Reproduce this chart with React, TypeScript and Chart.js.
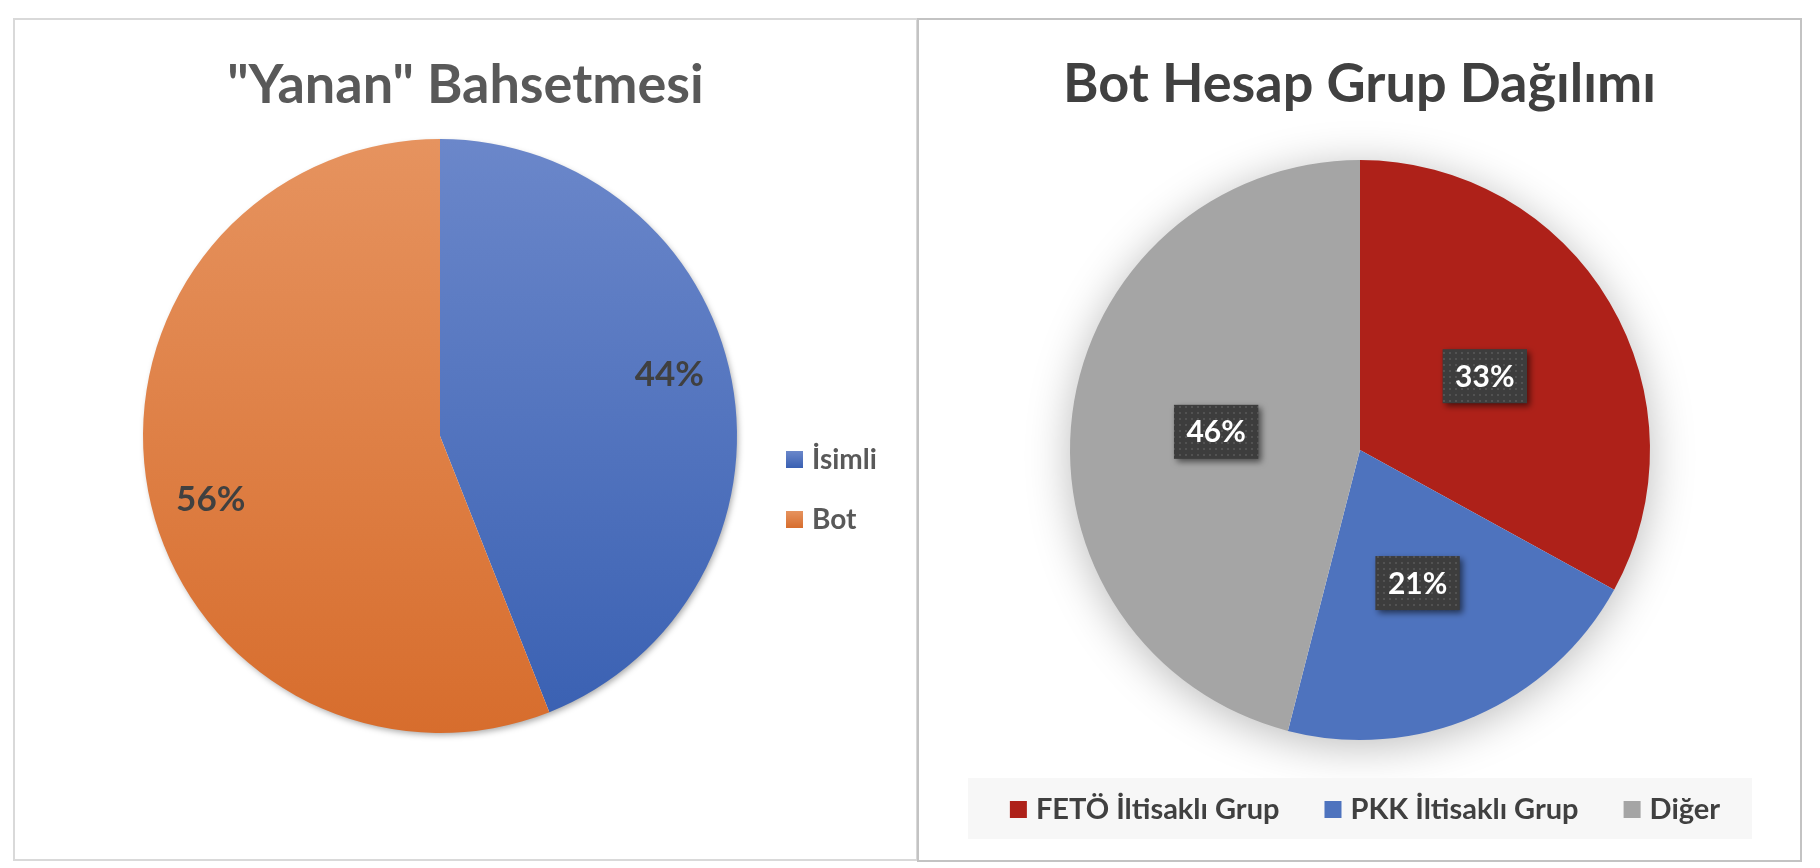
import React, { useEffect, useRef } from "react";
import { Chart, registerables } from "chart.js";

Chart.register(...registerables);

const FONT = "Lato, 'Open Sans', sans-serif";

// ---- Left chart data ----
const leftTitle = '"Yanan" Bahsetmesi';
const leftLabels = ["İsimli", "Bot"];
const leftValues = [44, 56];
const leftColorsTop = ["#6b87ca", "#e6935f"];
const leftColorsBottom = ["#3960b2", "#d76d2d"];

// ---- Right chart data ----
const rightTitle = "Bot Hesap Grup Dağılımı";
const rightLabels = ["FETÖ İltisaklı Grup", "PKK İltisaklı Grup", "Diğer"];
const rightValues = [33, 21, 46];
const rightColors = ["#ae2119", "#4e73be", "#a5a5a5"];

function pct(values: number[], i: number) {
  const total = values.reduce((a, b) => a + b, 0);
  return Math.round((values[i] / total) * 100) + "%";
}

function makeShadowPlugin(color: string, blur: number, ox: number, oy: number) {
  return {
    id: "pieShadow",
    beforeDatasetsDraw(chart: any) {
      const arc = chart.getDatasetMeta(0).data[0];
      if (!arc) return;
      const { x, y, outerRadius } = arc.getProps(["x", "y", "outerRadius"], true);
      const ctx = chart.ctx;
      ctx.save();
      ctx.shadowColor = color;
      ctx.shadowBlur = blur;
      ctx.shadowOffsetX = ox;
      ctx.shadowOffsetY = oy;
      ctx.beginPath();
      ctx.arc(x, y, outerRadius - 1, 0, Math.PI * 2);
      ctx.fillStyle = "#ffffff";
      ctx.fill();
      ctx.restore();
    },
  };
}

function makeTitlePlugin(text: string, color: string, baseline: number) {
  return {
    id: "panelTitle",
    afterDraw(chart: any) {
      const ctx = chart.ctx;
      ctx.save();
      ctx.font = `bold 54px ${FONT}`;
      ctx.fillStyle = color;
      ctx.textAlign = "center";
      ctx.textBaseline = "alphabetic";
      ctx.fillText(text, chart.width / 2, baseline);
      ctx.restore();
    },
  };
}

let dotPattern: CanvasPattern | null = null;
function getDotPattern(ctx: CanvasRenderingContext2D) {
  if (dotPattern) return dotPattern;
  const c = document.createElement("canvas");
  c.width = 6;
  c.height = 6;
  const p = c.getContext("2d")!;
  p.fillStyle = "#3d3d3d";
  p.fillRect(0, 0, 6, 6);
  p.fillStyle = "#525252";
  p.fillRect(2, 2, 2, 2);
  dotPattern = ctx.createPattern(c, "repeat");
  return dotPattern;
}

function makeLabelPlugin(
  values: number[],
  factor: number,
  angleShift: number,
  boxed: boolean,
  fontSize: number,
  color: string
) {
  return {
    id: "sliceLabels",
    afterDatasetsDraw(chart: any) {
      const ctx: CanvasRenderingContext2D = chart.ctx;
      const meta = chart.getDatasetMeta(0);
      meta.data.forEach((arc: any, i: number) => {
        const { x, y, startAngle, endAngle, outerRadius } = arc.getProps(
          ["x", "y", "startAngle", "endAngle", "outerRadius"],
          true
        );
        const mid = (startAngle + endAngle) / 2 + angleShift;
        const d = outerRadius * factor;
        const lx = x + Math.cos(mid) * d;
        const ly = y + Math.sin(mid) * d;
        const text = pct(values, i);
        ctx.save();
        ctx.font = `bold ${fontSize}px ${FONT}`;
        ctx.textAlign = "center";
        ctx.textBaseline = "middle";
        if (boxed) {
          const w = ctx.measureText(text).width + 25;
          const h = 54;
          ctx.save();
          ctx.shadowColor = "rgba(0,0,0,0.55)";
          ctx.shadowBlur = 6;
          ctx.shadowOffsetX = 3;
          ctx.shadowOffsetY = 3;
          ctx.fillStyle = getDotPattern(ctx) || "#3d3d3d";
          ctx.fillRect(lx - w / 2, ly - h / 2, w, h);
          ctx.restore();
        }
        ctx.fillStyle = color;
        ctx.fillText(text, lx, ly + 1);
        ctx.restore();
      });
    },
  };
}

const leftLegendPlugin = {
  id: "leftLegend",
  afterDraw(chart: any) {
    const ctx: CanvasRenderingContext2D = chart.ctx;
    ctx.save();
    ctx.font = `bold 28px ${FONT}`;
    ctx.textAlign = "left";
    ctx.textBaseline = "alphabetic";
    leftLabels.forEach((lab, i) => {
      const baseline = 449 + i * 60;
      const bx = 771;
      const by = baseline - 18;
      const g = ctx.createLinearGradient(0, by, 0, by + 17);
      g.addColorStop(0, leftColorsTop[i]);
      g.addColorStop(1, leftColorsBottom[i]);
      ctx.fillStyle = g;
      ctx.fillRect(bx, by, 17, 17);
      ctx.fillStyle = "#595959";
      ctx.fillText(lab, 797, baseline);
    });
    ctx.restore();
  },
};

const rightLegendPlugin = {
  id: "rightLegend",
  afterDraw(chart: any) {
    const ctx: CanvasRenderingContext2D = chart.ctx;
    ctx.save();
    ctx.fillStyle = "#f7f7f7";
    ctx.fillRect(49, 758, 784, 61);
    ctx.font = `bold 29px ${FONT}`;
    ctx.textAlign = "left";
    ctx.textBaseline = "alphabetic";
    const box = 17;
    const gap = 9;
    const between = 45;
    const widths = rightLabels.map((l) => ctx.measureText(l).width);
    const total = widths.reduce((a, w) => a + box + gap + w, 0) + between * (rightLabels.length - 1);
    let x = 446 - total / 2;
    const baseline = 799;
    rightLabels.forEach((lab, i) => {
      ctx.fillStyle = rightColors[i];
      ctx.fillRect(x, baseline - 18, box, box);
      ctx.fillStyle = "#404040";
      ctx.fillText(lab, x + box + gap, baseline);
      x += box + gap + widths[i] + between;
    });
    ctx.restore();
  },
};

function LeftChart() {
  const ref = useRef<HTMLCanvasElement>(null);
  useEffect(() => {
    const chart = new Chart(ref.current!, {
      type: "pie",
      data: {
        labels: leftLabels,
        datasets: [
          {
            data: leftValues,
            borderWidth: 0,
            backgroundColor: (c: any) => {
              const area = c.chart.chartArea;
              const i = c.dataIndex;
              if (!area) return leftColorsTop[i];
              const g = c.chart.ctx.createLinearGradient(0, area.top, 0, area.bottom);
              g.addColorStop(0, leftColorsTop[i]);
              g.addColorStop(1, leftColorsBottom[i]);
              return g;
            },
          },
        ],
      },
      options: {
        responsive: false,
        animation: false,
        devicePixelRatio: 1,
        layout: { padding: { left: 128, right: 179, top: 119, bottom: 126 } },
        plugins: { legend: { display: false }, title: { display: false }, tooltip: { enabled: false } },
      },
      plugins: [
        makeShadowPlugin("rgba(0,0,0,0.35)", 6, 2, 3),
        makeLabelPlugin(leftValues, 0.8, -0.077, false, 35, "#404040"),
        makeTitlePlugin(leftTitle, "#595959", 83),
        leftLegendPlugin,
      ],
    } as any);
    return () => chart.destroy();
  }, []);
  return <canvas ref={ref} width={901} height={839} style={{ position: "absolute", left: 0, top: 0, width: 901, height: 839 }} />;
}

function RightChart() {
  const ref = useRef<HTMLCanvasElement>(null);
  useEffect(() => {
    const chart = new Chart(ref.current!, {
      type: "pie",
      data: {
        labels: rightLabels,
        datasets: [{ data: rightValues, backgroundColor: rightColors, borderWidth: 0 }],
      },
      options: {
        responsive: false,
        animation: false,
        devicePixelRatio: 1,
        layout: { padding: { left: 151, right: 150, top: 140, bottom: 120 } },
        plugins: { legend: { display: false }, title: { display: false }, tooltip: { enabled: false } },
      },
      plugins: [
        makeShadowPlugin("rgba(0,0,0,0.28)", 45, 0, 6),
        makeLabelPlugin(rightValues, 0.5, 0, true, 30, "#ffffff"),
        makeTitlePlugin(rightTitle, "#404040", 82),
        rightLegendPlugin,
      ],
    } as any);
    return () => chart.destroy();
  }, []);
  return <canvas ref={ref} width={881} height={840} style={{ position: "absolute", left: 0, top: 0, width: 881, height: 840 }} />;
}

export default function App() {
  return (
    <div style={{ position: "absolute", left: 0, top: 0, width: 1820, height: 868, background: "#ffffff", overflow: "hidden" }}>
      <div
        style={{
          position: "absolute",
          left: 13,
          top: 18,
          width: 905,
          height: 843,
          boxSizing: "border-box",
          border: "2px solid #d9d9d9",
        }}
      >
        <LeftChart />
      </div>
      <div
        style={{
          position: "absolute",
          left: 917,
          top: 18,
          width: 885,
          height: 844,
          boxSizing: "border-box",
          border: "2px solid #c3c3c3",
        }}
      >
        <RightChart />
      </div>
    </div>
  );
}
